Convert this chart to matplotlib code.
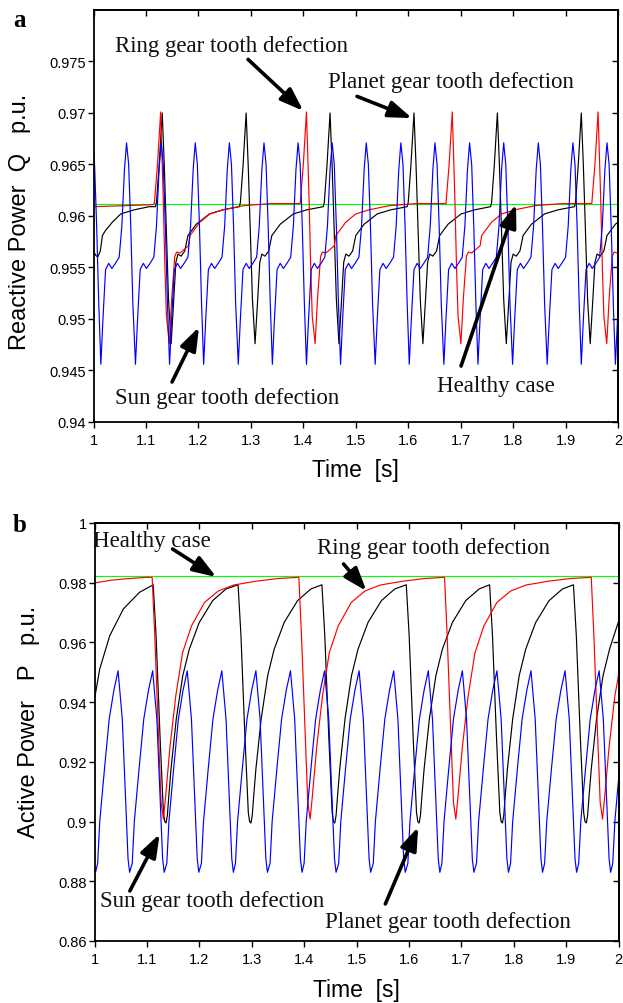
"""
Two-panel gear fault waveform chart: reactive (a) and active (b) power.

Output: out.png
"""
import matplotlib

matplotlib.use("Agg")
import matplotlib.pyplot as plt
from matplotlib.ticker import FuncFormatter

# ---------------------------------------------------------------------------
# Panel a: reactive power Q [p.u.]
# ---------------------------------------------------------------------------
HEALTHY_Q_T = [1.0, 2.0]
HEALTHY_Q_V = [0.9612, 0.9612]

# sun gear tooth defect (blue)
SUN_Q_T = [
    1.000, 1.002, 1.006, 1.010,
    1.014, 1.018, 1.023, 1.029, 1.035, 1.043, 1.049, 1.054, 1.059, 1.063, 1.067, 1.071, 1.075,
    1.080, 1.084, 1.089, 1.095, 1.101, 1.109, 1.115, 1.120, 1.125, 1.129, 1.133, 1.137, 1.141,
    1.145, 1.149, 1.154, 1.160, 1.166, 1.174, 1.180, 1.185, 1.190, 1.194, 1.198, 1.202, 1.206,
    1.210, 1.214, 1.219, 1.225, 1.231, 1.239, 1.245, 1.250, 1.255, 1.259, 1.263, 1.267, 1.271,
    1.276, 1.280, 1.285, 1.291, 1.297, 1.305, 1.311, 1.316, 1.321, 1.325, 1.329, 1.333, 1.337,
    1.341, 1.345, 1.350, 1.356, 1.362, 1.370, 1.376, 1.381, 1.386, 1.390, 1.394, 1.398, 1.402,
    1.406, 1.410, 1.415, 1.421, 1.427, 1.435, 1.441, 1.446, 1.451, 1.455, 1.459, 1.463, 1.467,
    1.471, 1.475, 1.480, 1.486, 1.492, 1.500, 1.506, 1.511, 1.516, 1.520, 1.524, 1.528, 1.532,
    1.537, 1.541, 1.546, 1.552, 1.558, 1.566, 1.572, 1.577, 1.582, 1.586, 1.590, 1.594, 1.598,
    1.602, 1.606, 1.611, 1.617, 1.623, 1.631, 1.637, 1.642, 1.647, 1.651, 1.655, 1.659, 1.663,
    1.668, 1.672, 1.677, 1.683, 1.689, 1.697, 1.703, 1.708, 1.713, 1.717, 1.721, 1.725, 1.729,
    1.733, 1.737, 1.742, 1.748, 1.754, 1.762, 1.768, 1.773, 1.778, 1.782, 1.786, 1.790, 1.794,
    1.799, 1.803, 1.808, 1.814, 1.820, 1.828, 1.834, 1.839, 1.844, 1.848, 1.852, 1.856, 1.860,
    1.865, 1.869, 1.874, 1.880, 1.886, 1.894, 1.900, 1.905, 1.910, 1.914, 1.918, 1.922, 1.926,
    1.930, 1.934, 1.939, 1.945, 1.951, 1.959, 1.965, 1.970, 1.975, 1.979, 1.983, 1.987, 1.991,
    1.995, 1.999, 2.000,
]
SUN_Q_V = [
    0.9662, 0.9650, 0.9590, 0.9515,
    0.9456, 0.9500, 0.9548, 0.9554, 0.9549, 0.9555, 0.9560, 0.9590, 0.9645, 0.9671, 0.9650, 0.9590, 0.9515,
    0.9456, 0.9500, 0.9548, 0.9554, 0.9549, 0.9555, 0.9560, 0.9590, 0.9645, 0.9671, 0.9650, 0.9590, 0.9515,
    0.9456, 0.9500, 0.9548, 0.9554, 0.9549, 0.9555, 0.9560, 0.9590, 0.9645, 0.9671, 0.9650, 0.9590, 0.9515,
    0.9456, 0.9500, 0.9548, 0.9554, 0.9549, 0.9555, 0.9560, 0.9590, 0.9645, 0.9671, 0.9650, 0.9590, 0.9515,
    0.9456, 0.9500, 0.9548, 0.9554, 0.9549, 0.9555, 0.9560, 0.9590, 0.9645, 0.9671, 0.9650, 0.9590, 0.9515,
    0.9456, 0.9500, 0.9548, 0.9554, 0.9549, 0.9555, 0.9560, 0.9590, 0.9645, 0.9671, 0.9650, 0.9590, 0.9515,
    0.9456, 0.9500, 0.9548, 0.9554, 0.9549, 0.9555, 0.9560, 0.9590, 0.9645, 0.9671, 0.9650, 0.9590, 0.9515,
    0.9456, 0.9500, 0.9548, 0.9554, 0.9549, 0.9555, 0.9560, 0.9590, 0.9645, 0.9671, 0.9650, 0.9590, 0.9515,
    0.9456, 0.9500, 0.9548, 0.9554, 0.9549, 0.9555, 0.9560, 0.9590, 0.9645, 0.9671, 0.9650, 0.9590, 0.9515,
    0.9456, 0.9500, 0.9548, 0.9554, 0.9549, 0.9555, 0.9560, 0.9590, 0.9645, 0.9671, 0.9650, 0.9590, 0.9515,
    0.9456, 0.9500, 0.9548, 0.9554, 0.9549, 0.9555, 0.9560, 0.9590, 0.9645, 0.9671, 0.9650, 0.9590, 0.9515,
    0.9456, 0.9500, 0.9548, 0.9554, 0.9549, 0.9555, 0.9560, 0.9590, 0.9645, 0.9671, 0.9650, 0.9590, 0.9515,
    0.9456, 0.9500, 0.9548, 0.9554, 0.9549, 0.9555, 0.9560, 0.9590, 0.9645, 0.9671, 0.9650, 0.9590, 0.9515,
    0.9456, 0.9500, 0.9548, 0.9554, 0.9549, 0.9555, 0.9560, 0.9590, 0.9645, 0.9671, 0.9650, 0.9590, 0.9515,
    0.9456, 0.9500, 0.9548, 0.9554, 0.9549, 0.9555, 0.9560, 0.9590, 0.9645, 0.9671, 0.9650, 0.9590, 0.9515,
    0.9456, 0.9500, 0.9510,
]

# planet gear tooth defect (black)
PLANET_Q_T = [
    1.000, 1.004, 1.008, 1.013, 1.017, 1.023, 1.036, 1.052, 1.078, 1.106, 1.118,
    1.120, 1.125, 1.131, 1.135, 1.139, 1.143, 1.148, 1.153, 1.157, 1.161, 1.167, 1.174, 1.180, 1.196, 1.221, 1.247, 1.278,
    1.280, 1.285, 1.291, 1.295, 1.299, 1.303, 1.308, 1.313, 1.317, 1.321, 1.327, 1.334, 1.340, 1.356, 1.381, 1.407, 1.438,
    1.440, 1.445, 1.451, 1.455, 1.459, 1.463, 1.468, 1.473, 1.477, 1.481, 1.487, 1.494, 1.500, 1.516, 1.541, 1.567, 1.598,
    1.600, 1.605, 1.611, 1.615, 1.619, 1.623, 1.628, 1.633, 1.637, 1.641, 1.647, 1.654, 1.660, 1.676, 1.701, 1.727, 1.757,
    1.759, 1.764, 1.770, 1.774, 1.778, 1.782, 1.787, 1.792, 1.796, 1.800, 1.806, 1.813, 1.819, 1.835, 1.860, 1.886, 1.917,
    1.919, 1.924, 1.930, 1.934, 1.938, 1.942, 1.947, 1.952, 1.956, 1.960, 1.966, 1.973, 1.979, 1.995, 2.000,
]
PLANET_Q_V = [
    0.9566, 0.9562, 0.9560, 0.9566, 0.9581, 0.9586, 0.9594, 0.9602, 0.9606, 0.9609, 0.9609,
    0.9613, 0.9648, 0.9700, 0.9648, 0.9584, 0.9519, 0.9476, 0.9519, 0.9555, 0.9563, 0.9561, 0.9566, 0.9581, 0.9592, 0.9602, 0.9606, 0.9609,
    0.9613, 0.9648, 0.9700, 0.9648, 0.9584, 0.9519, 0.9476, 0.9519, 0.9555, 0.9563, 0.9561, 0.9566, 0.9581, 0.9592, 0.9602, 0.9606, 0.9609,
    0.9613, 0.9648, 0.9700, 0.9648, 0.9584, 0.9519, 0.9476, 0.9519, 0.9555, 0.9563, 0.9561, 0.9566, 0.9581, 0.9592, 0.9602, 0.9606, 0.9609,
    0.9613, 0.9648, 0.9700, 0.9648, 0.9584, 0.9519, 0.9476, 0.9519, 0.9555, 0.9563, 0.9561, 0.9566, 0.9581, 0.9592, 0.9602, 0.9606, 0.9609,
    0.9613, 0.9648, 0.9700, 0.9648, 0.9584, 0.9519, 0.9476, 0.9519, 0.9555, 0.9563, 0.9561, 0.9566, 0.9581, 0.9592, 0.9602, 0.9606, 0.9609,
    0.9613, 0.9648, 0.9700, 0.9648, 0.9584, 0.9519, 0.9476, 0.9519, 0.9555, 0.9563, 0.9561, 0.9566, 0.9581, 0.9592, 0.9594,
]

# ring gear tooth defect (red)
RING_Q_T = [
    1.000, 1.060, 1.113,
    1.116, 1.122, 1.128, 1.133, 1.136, 1.139, 1.1445, 1.149, 1.155, 1.1585, 1.165, 1.174, 1.181, 1.184,
    1.203, 1.222, 1.2475, 1.286, 1.311, 1.338,
    1.394, 1.400, 1.406, 1.411, 1.414, 1.417, 1.4225, 1.427, 1.433, 1.4365, 1.443, 1.452, 1.459, 1.462,
    1.481, 1.500, 1.5255, 1.564, 1.589, 1.616,
    1.672, 1.678, 1.684, 1.689, 1.692, 1.695, 1.7005, 1.705, 1.711, 1.7145, 1.721, 1.730, 1.737, 1.740,
    1.759, 1.778, 1.8035, 1.842, 1.867, 1.894,
    1.950, 1.956, 1.962, 1.967, 1.970, 1.973, 1.9785, 1.983, 1.989, 1.9925, 1.999, 2.000,
]
RING_Q_V = [
    0.9609, 0.9610, 0.9611,
    0.9612, 0.9650, 0.9701, 0.9616, 0.9552, 0.9503, 0.9476, 0.9519, 0.9561, 0.9565, 0.9564, 0.9568, 0.9571, 0.9581,
    0.9594, 0.9602, 0.9606, 0.9610, 0.9611, 0.9612,
    0.9612, 0.9650, 0.9701, 0.9616, 0.9552, 0.9503, 0.9476, 0.9519, 0.9561, 0.9565, 0.9564, 0.9568, 0.9571, 0.9581,
    0.9594, 0.9602, 0.9606, 0.9610, 0.9611, 0.9612,
    0.9612, 0.9650, 0.9701, 0.9616, 0.9552, 0.9503, 0.9476, 0.9519, 0.9561, 0.9565, 0.9564, 0.9568, 0.9571, 0.9581,
    0.9594, 0.9602, 0.9606, 0.9610, 0.9611, 0.9612,
    0.9612, 0.9650, 0.9701, 0.9616, 0.9552, 0.9503, 0.9476, 0.9519, 0.9561, 0.9565, 0.9564, 0.9564,
]

# ---------------------------------------------------------------------------
# Panel b: active power P [p.u.]
# ---------------------------------------------------------------------------
HEALTHY_P_T = [1.0, 2.0]
HEALTHY_P_V = [0.9821, 0.9821]

SUN_P_T = [
    1.000, 1.002,
    1.006, 1.010, 1.019, 1.028, 1.037, 1.045, 1.053, 1.057, 1.061, 1.064, 1.067,
    1.072, 1.076, 1.085, 1.094, 1.103, 1.111, 1.119, 1.123, 1.127, 1.130, 1.133,
    1.138, 1.142, 1.151, 1.160, 1.169, 1.177, 1.185, 1.189, 1.193, 1.196, 1.199,
    1.204, 1.208, 1.217, 1.226, 1.235, 1.243, 1.251, 1.255, 1.259, 1.262, 1.265,
    1.269, 1.273, 1.282, 1.291, 1.300, 1.308, 1.316, 1.320, 1.324, 1.327, 1.330,
    1.335, 1.339, 1.348, 1.357, 1.366, 1.374, 1.382, 1.386, 1.390, 1.393, 1.396,
    1.400, 1.404, 1.413, 1.422, 1.431, 1.439, 1.447, 1.451, 1.455, 1.458, 1.461,
    1.466, 1.470, 1.479, 1.488, 1.497, 1.505, 1.513, 1.517, 1.521, 1.524, 1.527,
    1.532, 1.536, 1.545, 1.554, 1.563, 1.571, 1.579, 1.583, 1.587, 1.590, 1.593,
    1.598, 1.602, 1.611, 1.620, 1.629, 1.637, 1.645, 1.649, 1.653, 1.656, 1.659,
    1.663, 1.667, 1.676, 1.685, 1.694, 1.702, 1.710, 1.714, 1.718, 1.721, 1.724,
    1.729, 1.733, 1.742, 1.751, 1.760, 1.768, 1.776, 1.780, 1.784, 1.787, 1.790,
    1.794, 1.798, 1.807, 1.816, 1.825, 1.833, 1.841, 1.845, 1.849, 1.852, 1.855,
    1.859, 1.863, 1.872, 1.881, 1.890, 1.898, 1.906, 1.910, 1.914, 1.917, 1.920,
    1.924, 1.928, 1.937, 1.946, 1.955, 1.963, 1.971, 1.975, 1.979, 1.982, 1.985,
    1.989, 1.993, 2.000,
]
SUN_P_V = [
    0.8835, 0.8830,
    0.8860, 0.9000, 0.9176, 0.9343, 0.9440, 0.9505, 0.9343, 0.9176, 0.9010, 0.8875, 0.8830,
    0.8860, 0.9000, 0.9176, 0.9343, 0.9440, 0.9505, 0.9343, 0.9176, 0.9010, 0.8875, 0.8830,
    0.8860, 0.9000, 0.9176, 0.9343, 0.9440, 0.9505, 0.9343, 0.9176, 0.9010, 0.8875, 0.8830,
    0.8860, 0.9000, 0.9176, 0.9343, 0.9440, 0.9505, 0.9343, 0.9176, 0.9010, 0.8875, 0.8830,
    0.8860, 0.9000, 0.9176, 0.9343, 0.9440, 0.9505, 0.9343, 0.9176, 0.9010, 0.8875, 0.8830,
    0.8860, 0.9000, 0.9176, 0.9343, 0.9440, 0.9505, 0.9343, 0.9176, 0.9010, 0.8875, 0.8830,
    0.8860, 0.9000, 0.9176, 0.9343, 0.9440, 0.9505, 0.9343, 0.9176, 0.9010, 0.8875, 0.8830,
    0.8860, 0.9000, 0.9176, 0.9343, 0.9440, 0.9505, 0.9343, 0.9176, 0.9010, 0.8875, 0.8830,
    0.8860, 0.9000, 0.9176, 0.9343, 0.9440, 0.9505, 0.9343, 0.9176, 0.9010, 0.8875, 0.8830,
    0.8860, 0.9000, 0.9176, 0.9343, 0.9440, 0.9505, 0.9343, 0.9176, 0.9010, 0.8875, 0.8830,
    0.8860, 0.9000, 0.9176, 0.9343, 0.9440, 0.9505, 0.9343, 0.9176, 0.9010, 0.8875, 0.8830,
    0.8860, 0.9000, 0.9176, 0.9343, 0.9440, 0.9505, 0.9343, 0.9176, 0.9010, 0.8875, 0.8830,
    0.8860, 0.9000, 0.9176, 0.9343, 0.9440, 0.9505, 0.9343, 0.9176, 0.9010, 0.8875, 0.8830,
    0.8860, 0.9000, 0.9176, 0.9343, 0.9440, 0.9505, 0.9343, 0.9176, 0.9010, 0.8875, 0.8830,
    0.8860, 0.9000, 0.9176, 0.9343, 0.9440, 0.9505, 0.9343, 0.9176, 0.9010, 0.8875, 0.8830,
    0.8860, 0.9000, 0.9140,
]

PLANET_P_T = [
    1.000, 1.010, 1.029, 1.055, 1.086,
    1.112, 1.1175, 1.125, 1.1315, 1.134, 1.1365, 1.139, 1.142, 1.146, 1.156, 1.1685, 1.181, 1.200, 1.2255, 1.251,
    1.274, 1.2795, 1.287, 1.2935, 1.296, 1.2985, 1.301, 1.304, 1.308, 1.318, 1.3305, 1.343, 1.362, 1.3875, 1.413,
    1.434, 1.4395, 1.447, 1.4535, 1.456, 1.4585, 1.461, 1.464, 1.468, 1.478, 1.4905, 1.503, 1.522, 1.5475, 1.573,
    1.595, 1.6005, 1.608, 1.6145, 1.617, 1.6195, 1.622, 1.625, 1.629, 1.639, 1.6515, 1.664, 1.683, 1.7085, 1.734,
    1.754, 1.7595, 1.767, 1.7735, 1.776, 1.7785, 1.781, 1.784, 1.788, 1.798, 1.8105, 1.823, 1.842, 1.8675, 1.893,
    1.914, 1.9195, 1.927, 1.9335, 1.936, 1.9385, 1.941, 1.944, 1.948, 1.958, 1.9705, 1.983, 2.000,
]
PLANET_P_V = [
    0.9410, 0.9511, 0.9622, 0.9712, 0.9768,
    0.9793, 0.9622, 0.9287, 0.9030, 0.9000, 0.8995, 0.9020, 0.9090, 0.9176, 0.9343, 0.9489, 0.9578, 0.9667, 0.9740, 0.9779,
    0.9793, 0.9622, 0.9287, 0.9030, 0.9000, 0.8995, 0.9020, 0.9090, 0.9176, 0.9343, 0.9489, 0.9578, 0.9667, 0.9740, 0.9779,
    0.9793, 0.9622, 0.9287, 0.9030, 0.9000, 0.8995, 0.9020, 0.9090, 0.9176, 0.9343, 0.9489, 0.9578, 0.9667, 0.9740, 0.9779,
    0.9793, 0.9622, 0.9287, 0.9030, 0.9000, 0.8995, 0.9020, 0.9090, 0.9176, 0.9343, 0.9489, 0.9578, 0.9667, 0.9740, 0.9779,
    0.9793, 0.9622, 0.9287, 0.9030, 0.9000, 0.8995, 0.9020, 0.9090, 0.9176, 0.9343, 0.9489, 0.9578, 0.9667, 0.9740, 0.9779,
    0.9793, 0.9622, 0.9287, 0.9030, 0.9000, 0.8995, 0.9020, 0.9090, 0.9176, 0.9343, 0.9489, 0.9578, 0.9670,
]

RING_P_T = [
    1.000, 1.030, 1.060, 1.100,
    1.110, 1.115, 1.1215, 1.127, 1.1315, 1.136, 1.144, 1.155, 1.168, 1.185, 1.210, 1.236, 1.265, 1.308, 1.350,
    1.390, 1.395, 1.4015, 1.407, 1.4115, 1.416, 1.424, 1.435, 1.448, 1.465, 1.490, 1.516, 1.545, 1.588, 1.630,
    1.668, 1.673, 1.6795, 1.685, 1.6895, 1.694, 1.702, 1.713, 1.726, 1.743, 1.768, 1.794, 1.823, 1.866, 1.908,
    1.948, 1.953, 1.9595, 1.965, 1.9695, 1.974, 1.982, 1.993, 2.000,
]
RING_P_V = [
    0.9799, 0.9808, 0.9813, 0.9818,
    0.9818, 0.9622, 0.9320, 0.9065, 0.9008, 0.9090, 0.9250, 0.9420, 0.9565, 0.9655, 0.9734, 0.9772, 0.9792, 0.9805, 0.9814,
    0.9818, 0.9622, 0.9320, 0.9065, 0.9008, 0.9090, 0.9250, 0.9420, 0.9565, 0.9655, 0.9734, 0.9772, 0.9792, 0.9805, 0.9814,
    0.9818, 0.9622, 0.9320, 0.9065, 0.9008, 0.9090, 0.9250, 0.9420, 0.9565, 0.9655, 0.9734, 0.9772, 0.9792, 0.9805, 0.9814,
    0.9818, 0.9622, 0.9320, 0.9065, 0.9008, 0.9090, 0.9250, 0.9420, 0.9490,
]

X_TICKS = [1.0, 1.1, 1.2, 1.3, 1.4, 1.5, 1.6, 1.7, 1.8, 1.9, 2.0]
Q_TICKS = [0.94, 0.945, 0.95, 0.955, 0.96, 0.965, 0.97, 0.975]
P_TICKS = [0.86, 0.88, 0.90, 0.92, 0.94, 0.96, 0.98, 1.0]

SANS = "Liberation Sans"
SERIF = "Liberation Serif"
BLUE = "#0000ff"
RED = "#ff0000"
GREEN = "#00ff00"


def fmt(v, _pos):
    return f"{v:g}"


def style_axes(ax, ylim, yticks):
    ax.set_xlim(1.0, 2.0)
    ax.set_ylim(*ylim)
    ax.set_xticks(X_TICKS)
    ax.set_yticks(yticks)
    ax.xaxis.set_major_formatter(FuncFormatter(fmt))
    ax.yaxis.set_major_formatter(FuncFormatter(fmt))
    ax.tick_params(direction="out", length=4, width=1.0, labelsize=10.5,
                   top=False, right=False)
    ax.tick_params(axis="y", pad=1.5)
    ax.tick_params(axis="x", pad=4)
    for lab in ax.get_xticklabels() + ax.get_yticklabels():
        lab.set_fontfamily(SANS)
    for sp in ax.spines.values():
        sp.set_linewidth(1.3)

    # inner ticks on the top and right frame
    top = ax.secondary_xaxis("top")
    top.set_xticks(X_TICKS)
    top.tick_params(direction="in", length=4, width=1.0, labeltop=False)
    right = ax.secondary_yaxis("right")
    right.set_yticks(yticks)
    right.tick_params(direction="in", length=4, width=1.0, labelright=False)
    for sec in (top, right):
        for sp in sec.spines.values():
            sp.set_linewidth(1.3)


def arrow(ax, tail, head):
    ax.annotate(
        "",
        xy=head,
        xytext=tail,
        arrowprops=dict(
            arrowstyle="-|>,head_length=0.7,head_width=0.25",
            color="black",
            lw=2.6,
            shrinkA=0,
            shrinkB=0,
            mutation_scale=20,
        ),
    )


def label(ax, x, y, s):
    ax.text(x, y, s, fontsize=16.5, family=SERIF, va="baseline", ha="left",
            color="#111111", clip_on=False)


def main() -> None:
    fig = plt.figure(figsize=(6.23, 10.04), dpi=100)
    fig.patch.set_facecolor("white")

    lw = 0.85

    # --- panel a ---
    ax_q = fig.add_axes([0.1501, 0.5787, 0.8419, 0.4104])
    ax_q.plot(HEALTHY_Q_T, HEALTHY_Q_V, color=GREEN, lw=lw)
    ax_q.plot(PLANET_Q_T, PLANET_Q_V, color="black", lw=lw)
    ax_q.plot(RING_Q_T, RING_Q_V, color=RED, lw=lw)
    ax_q.plot(SUN_Q_T, SUN_Q_V, color=BLUE, lw=lw)
    style_axes(ax_q, (0.94, 0.98), Q_TICKS)

    label(ax_q, 1.041, 0.9760, "Ring gear tooth defection")
    arrow(ax_q, (1.2946, 0.9752), (1.4000, 0.9702))
    label(ax_q, 1.4477, 0.97255, "Planet gear tooth defection")
    arrow(ax_q, (1.5024, 0.97161), (1.6072, 0.96950))
    label(ax_q, 1.041, 0.94184, "Sun gear tooth defection")
    arrow(ax_q, (1.1497, 0.94388), (1.2011, 0.94921))
    label(ax_q, 1.6543, 0.94298, "Healthy case")
    arrow(ax_q, (1.7007, 0.94543), (1.8055, 0.96114))

    # --- panel b ---
    ax_p = fig.add_axes([0.1517, 0.0618, 0.8411, 0.4163])
    ax_p.plot(HEALTHY_P_T, HEALTHY_P_V, color=GREEN, lw=lw)
    ax_p.plot(PLANET_P_T, PLANET_P_V, color="black", lw=lw)
    ax_p.plot(RING_P_T, RING_P_V, color=RED, lw=lw)
    ax_p.plot(SUN_P_T, SUN_P_V, color=BLUE, lw=lw)
    style_axes(ax_p, (0.86, 1.0), P_TICKS)

    label(ax_p, 0.9977, 0.99239, "Healthy case")
    arrow(ax_p, (1.149, 0.99128), (1.2324, 0.98190))
    label(ax_p, 1.4247, 0.98994, "Ring gear tooth defection")
    arrow(ax_p, (1.4753, 0.98626), (1.519, 0.97722))
    label(ax_p, 1.0104, 0.87182, "Sun gear tooth defection")
    arrow(ax_p, (1.0674, 0.87675), (1.1243, 0.89583))
    label(ax_p, 1.4393, 0.86459, "Planet gear tooth defection")
    arrow(ax_p, (1.555, 0.87239), (1.6177, 0.89818))

    # axis titles and panel letters
    W, H = 623.0, 1004.0
    fig.text(355.75 / W, 1 - 476.7 / H, "Time  [s]", ha="center", va="baseline",
             fontsize=16.5, family=SANS)
    fig.text(356.5 / W, 1 - 996.7 / H, "Time  [s]", ha="center", va="baseline",
             fontsize=16.5, family=SANS)
    fig.text(20.5 / W, 1 - 222 / H, "Reactive Power  Q   p.u.", rotation=90,
             ha="center", va="center", fontsize=17, family=SANS)
    fig.text(29.5 / W, 1 - 722 / H, "Active Power   P   p.u.", rotation=90,
             ha="center", va="center", fontsize=17, family=SANS)
    fig.text(13 / W, 1 - 26.7 / H, "a", fontsize=18, fontweight="bold",
             family=SERIF, va="baseline")
    fig.text(13 / W, 1 - 531.7 / H, "b", fontsize=18, fontweight="bold",
             family=SERIF, va="baseline")

    fig.savefig("out.png", dpi=100, facecolor="white")
    plt.close(fig)


if __name__ == "__main__":
    main()
